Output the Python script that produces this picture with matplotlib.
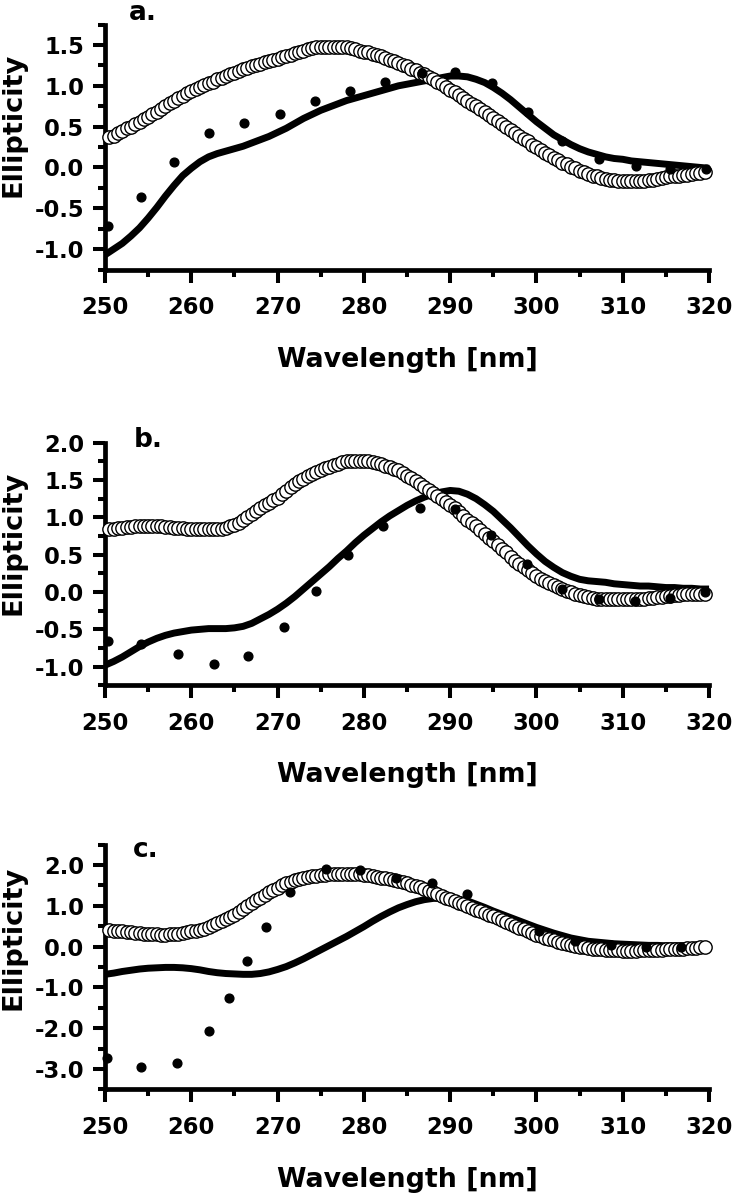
import numpy as np
import matplotlib
matplotlib.use("Agg")
import matplotlib.pyplot as plt

plt.rcParams['font.family'] = ['DejaVu Sans']
plt.rcParams['font.weight'] = 'bold'
plt.rcParams['axes.unicode_minus'] = False

# ---------------- data ----------------
CIRC_X = np.arange(250.5, 320.0, 0.5)   # open-circle spectra sampling (nm)
LINE_X = np.arange(250, 321, 1)         # solid-line spectra sampling (nm)

circ_a = [0.37, 0.39, 0.42, 0.45, 0.48, 0.50, 0.53, 0.56, 0.59, 0.62,
          0.65, 0.68, 0.72, 0.75, 0.79, 0.82, 0.85, 0.88, 0.91, 0.94,
          0.96, 0.99, 1.01, 1.03, 1.05, 1.08, 1.10, 1.12, 1.14, 1.16,
          1.18, 1.20, 1.22, 1.24, 1.25, 1.27, 1.29, 1.30, 1.32, 1.33,
          1.35, 1.37, 1.38, 1.40, 1.42, 1.43, 1.45, 1.46, 1.47, 1.48,
          1.48, 1.48, 1.48, 1.48, 1.47, 1.47, 1.46, 1.45, 1.43, 1.42,
          1.41, 1.39, 1.38, 1.36, 1.34, 1.32, 1.30, 1.28, 1.26, 1.24,
          1.21, 1.19, 1.16, 1.14, 1.11, 1.08, 1.05, 1.02, 0.98, 0.95,
          0.92, 0.89, 0.85, 0.82, 0.78, 0.75, 0.71, 0.68, 0.64, 0.60,
          0.57, 0.53, 0.49, 0.46, 0.42, 0.39, 0.35, 0.32, 0.28, 0.25,
          0.22, 0.18, 0.15, 0.12, 0.09, 0.06, 0.04, 0.01, -0.01, -0.04,
          -0.06, -0.08, -0.10, -0.11, -0.13, -0.14, -0.15, -0.15, -0.16, -0.16,
          -0.16, -0.16, -0.16, -0.16, -0.16, -0.15, -0.15, -0.14, -0.13, -0.12,
          -0.11, -0.11, -0.10, -0.09, -0.09, -0.08, -0.07, -0.07, -0.06]

circ_b = [0.85, 0.85, 0.86, 0.86, 0.87, 0.87, 0.88, 0.88, 0.88, 0.88,
          0.88, 0.88, 0.88, 0.87, 0.87, 0.86, 0.86, 0.86, 0.85, 0.85,
          0.85, 0.84, 0.84, 0.84, 0.84, 0.85, 0.85, 0.86, 0.88, 0.90,
          0.93, 0.96, 1.00, 1.04, 1.08, 1.12, 1.16, 1.19, 1.23, 1.26,
          1.31, 1.35, 1.40, 1.44, 1.48, 1.51, 1.55, 1.58, 1.61, 1.64,
          1.66, 1.68, 1.70, 1.72, 1.74, 1.75, 1.75, 1.76, 1.76, 1.76,
          1.75, 1.74, 1.73, 1.71, 1.69, 1.67, 1.65, 1.63, 1.60, 1.56,
          1.53, 1.49, 1.45, 1.41, 1.37, 1.33, 1.29, 1.25, 1.21, 1.17,
          1.12, 1.07, 1.02, 0.97, 0.92, 0.88, 0.83, 0.78, 0.73, 0.68,
          0.63, 0.58, 0.53, 0.47, 0.42, 0.37, 0.33, 0.29, 0.25, 0.21,
          0.18, 0.15, 0.12, 0.09, 0.07, 0.04, 0.02, 0.00, -0.02, -0.04,
          -0.05, -0.07, -0.08, -0.09, -0.09, -0.10, -0.10, -0.10, -0.10, -0.10,
          -0.10, -0.10, -0.10, -0.09, -0.09, -0.08, -0.08, -0.07, -0.07, -0.06,
          -0.05, -0.04, -0.04, -0.03, -0.03, -0.03, -0.02, -0.02, -0.02]

circ_c = [0.40, 0.39, 0.38, 0.37, 0.36, 0.35, 0.34, 0.33, 0.32, 0.31,
          0.30, 0.30, 0.29, 0.29, 0.30, 0.31, 0.32, 0.33, 0.35, 0.37,
          0.39, 0.41, 0.44, 0.48, 0.52, 0.57, 0.62, 0.67, 0.72, 0.78,
          0.85, 0.92, 0.99, 1.06, 1.13, 1.20, 1.27, 1.33, 1.39, 1.44,
          1.50, 1.55, 1.58, 1.62, 1.65, 1.67, 1.70, 1.72, 1.74, 1.75,
          1.76, 1.77, 1.78, 1.79, 1.79, 1.79, 1.79, 1.79, 1.78, 1.76,
          1.75, 1.73, 1.71, 1.69, 1.67, 1.65, 1.63, 1.60, 1.58, 1.55,
          1.52, 1.48, 1.45, 1.41, 1.37, 1.33, 1.28, 1.24, 1.20, 1.16,
          1.12, 1.08, 1.04, 0.99, 0.95, 0.90, 0.86, 0.82, 0.78, 0.74,
          0.69, 0.64, 0.60, 0.55, 0.51, 0.46, 0.42, 0.37, 0.33, 0.29,
          0.25, 0.21, 0.18, 0.15, 0.12, 0.09, 0.06, 0.04, 0.02, -0.01,
          -0.02, -0.04, -0.05, -0.06, -0.07, -0.08, -0.08, -0.09, -0.09, -0.10,
          -0.10, -0.10, -0.10, -0.09, -0.09, -0.09, -0.08, -0.08, -0.08, -0.07,
          -0.07, -0.06, -0.06, -0.05, -0.04, -0.03, -0.03, -0.02, -0.01]

line_a = [-1.07, -1.00, -0.93, -0.84, -0.74, -0.62, -0.49, -0.35, -0.22, -0.10,
          -0.01, 0.07, 0.13, 0.17, 0.20, 0.23, 0.26, 0.30, 0.34, 0.38,
          0.43, 0.48, 0.54, 0.60, 0.65, 0.70, 0.74, 0.78, 0.82, 0.85,
          0.88, 0.91, 0.94, 0.97, 1.00, 1.02, 1.04, 1.06, 1.08, 1.10,
          1.12, 1.12, 1.11, 1.08, 1.04, 0.98, 0.91, 0.83, 0.74, 0.65,
          0.56, 0.48, 0.40, 0.34, 0.28, 0.23, 0.19, 0.16, 0.13, 0.11,
          0.10, 0.08, 0.07, 0.06, 0.05, 0.04, 0.03, 0.02, 0.01, 0.00,
          -0.01]

line_b = [-0.98, -0.93, -0.87, -0.80, -0.73, -0.67, -0.62, -0.58, -0.55, -0.53,
          -0.51, -0.50, -0.49, -0.49, -0.49, -0.48, -0.46, -0.42, -0.36, -0.30,
          -0.23, -0.15, -0.06, 0.04, 0.14, 0.24, 0.34, 0.45, 0.55, 0.66,
          0.76, 0.85, 0.94, 1.02, 1.09, 1.16, 1.22, 1.27, 1.31, 1.34,
          1.36, 1.35, 1.31, 1.25, 1.17, 1.08, 0.97, 0.86, 0.74, 0.62,
          0.51, 0.41, 0.33, 0.26, 0.21, 0.17, 0.15, 0.14, 0.13, 0.11,
          0.10, 0.09, 0.08, 0.08, 0.07, 0.06, 0.06, 0.05, 0.05, 0.04,
          0.04]

line_c = [-0.68, -0.65, -0.61, -0.58, -0.55, -0.53, -0.52, -0.51, -0.51, -0.52,
          -0.54, -0.57, -0.61, -0.64, -0.66, -0.67, -0.68, -0.68, -0.66, -0.62,
          -0.56, -0.49, -0.40, -0.30, -0.19, -0.08, 0.03, 0.14, 0.25, 0.37,
          0.49, 0.62, 0.74, 0.85, 0.95, 1.03, 1.10, 1.15, 1.18, 1.19,
          1.19, 1.16, 1.12, 1.04, 0.96, 0.87, 0.79, 0.71, 0.63, 0.55,
          0.47, 0.40, 0.33, 0.27, 0.21, 0.17, 0.13, 0.11, 0.09, 0.07,
          0.06, 0.05, 0.04, 0.03, 0.03, 0.02, 0.02, 0.01, 0.01, 0.00,
          0.00]

dots_a_x = [250.3, 254.2, 258.0, 262.0, 266.1, 270.3, 274.3, 278.4, 282.5, 286.7,
            290.6, 294.8, 299.0, 303.0, 307.2, 311.5, 315.5, 319.6]
dots_a_y = [-0.72, -0.36, 0.07, 0.42, 0.54, 0.66, 0.82, 0.94, 1.05, 1.16,
            1.17, 1.03, 0.68, 0.32, 0.10, 0.02, -0.02, -0.02]

dots_b_x = [250.3, 254.2, 258.5, 262.6, 266.6, 270.7, 274.5, 278.2, 282.2, 286.5,
            290.6, 294.7, 298.9, 303.0, 307.2, 311.4, 315.5, 319.5]
dots_b_y = [-0.66, -0.69, -0.83, -0.96, -0.86, -0.47, 0.01, 0.50, 0.88, 1.13,
            1.11, 0.77, 0.37, 0.04, -0.10, -0.12, -0.08, 0.00]

dots_c_x = [250.2, 254.2, 258.3, 262.1, 264.4, 266.4, 268.6, 271.4, 275.6, 279.6,
            283.7, 287.9, 292.0, 300.3, 304.5, 308.6, 312.7, 316.7]
dots_c_y = [-2.72, -2.94, -2.86, -2.07, -1.25, -0.36, 0.49, 1.34, 1.91, 1.87,
            1.68, 1.55, 1.30, 0.37, 0.13, 0.03, -0.01, -0.01]

X_TICKS = [250, 260, 270, 280, 290, 300, 310, 320]

panels = [
    dict(letter='a.', circ=circ_a, line=line_a, dx=dots_a_x, dy=dots_a_y,
         ylim=(-1.25, 1.75), yticks=[-1.0, -0.5, 0.0, 0.5, 1.0, 1.5], yminor=0.25,
         rect=[0.1427, 0.7752, 0.8207, 0.2043], letter_xy=(0.063, 1.018),
         ylab_y=0.59),
    dict(letter='b.', circ=circ_b, line=line_b, dx=dots_b_x, dy=dots_b_y,
         ylim=(-1.25, 2.0), yticks=[-1.0, -0.5, 0.0, 0.5, 1.0, 1.5, 2.0], yminor=0.25,
         rect=[0.1427, 0.4284, 0.8207, 0.2024], letter_xy=(0.071, 0.982),
         ylab_y=0.587),
    dict(letter='c.', circ=circ_c, line=line_c, dx=dots_c_x, dy=dots_c_y,
         ylim=(-3.5, 2.5), yticks=[-3.0, -2.0, -1.0, 0.0, 1.0, 2.0], yminor=0.5,
         rect=[0.1427, 0.0914, 0.8207, 0.2042], letter_xy=(0.068, 0.949),
         ylab_y=0.618),
]

fig = plt.figure(figsize=(7.36, 11.99), dpi=100)

for p in panels:
    ax = fig.add_axes(p['rect'])
    ax.plot(LINE_X, p['line'], color='black', lw=5.0, solid_joinstyle='round',
            solid_capstyle='butt', zorder=2, clip_on=False)
    ax.plot(CIRC_X, p['circ'], linestyle='none', marker='o', markersize=9.6,
            markerfacecolor='white', markeredgecolor='black', markeredgewidth=1.0,
            zorder=3, clip_on=False)
    ax.plot(p['dx'], p['dy'], linestyle='none', marker='o', markersize=6.3,
            color='black', zorder=4, clip_on=False)

    ax.set_xlim(250, 320)
    ax.set_ylim(*p['ylim'])
    ax.set_xticks(X_TICKS)
    ax.set_xticks(np.arange(255, 320, 10), minor=True)
    ax.set_yticks(p['yticks'])
    ax.set_yticklabels([f"{v:.1f}" for v in p['yticks']])
    lo, hi = p['ylim']
    ax.set_yticks(np.arange(lo, hi + 1e-9, p['yminor']), minor=True)

    for s in ['top', 'right']:
        ax.spines[s].set_visible(False)
    for s in ['left', 'bottom']:
        ax.spines[s].set_linewidth(3.4)
        ax.spines[s].set_capstyle('projecting')

    ax.tick_params(which='major', direction='out', length=9, width=2.9,
                   labelsize=16.3, color='black')
    ax.tick_params(which='minor', direction='out', length=5, width=2.9)
    ax.tick_params(axis='x', which='major', pad=10)
    ax.tick_params(axis='y', which='major', pad=6)
    for lab in ax.get_xticklabels() + ax.get_yticklabels():
        lab.set_fontweight('bold')

    ax.set_xlabel('Wavelength [nm]', fontsize=19.3, fontweight='bold')
    ax.xaxis.set_label_coords(0.5, -0.369)
    ax.xaxis.label.set_verticalalignment('center')
    ax.set_ylabel('Ellipticity', fontsize=19.6, fontweight='bold')
    ax.yaxis.set_label_coords(-0.152, p['ylab_y'])
    ax.yaxis.label.set_verticalalignment('center')

    ax.text(p['letter_xy'][0], p['letter_xy'][1], p['letter'], transform=ax.transAxes,
            fontsize=19, fontweight='bold', ha='center', va='baseline')

fig.savefig('out.png', dpi=100, facecolor='white')
